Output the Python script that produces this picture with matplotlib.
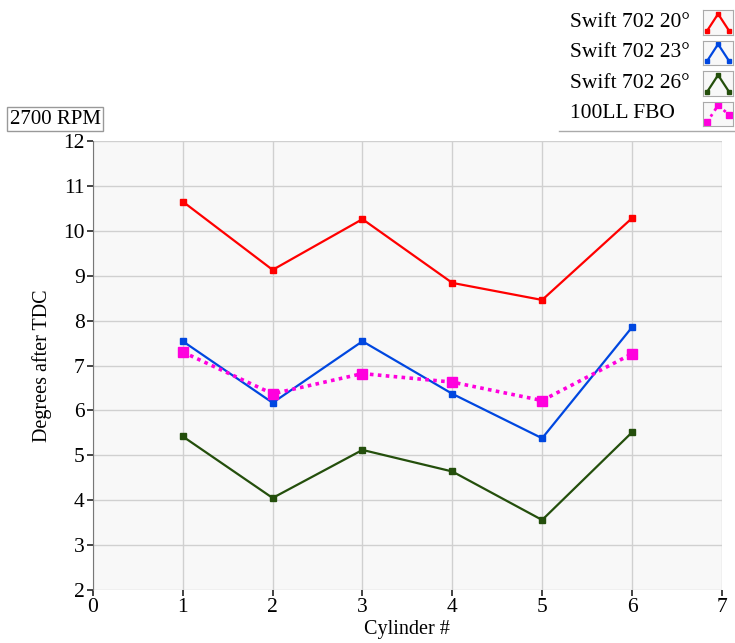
import matplotlib.pyplot as plt
from matplotlib.lines import Line2D

plt.rcParams['font.family'] = ['Liberation Serif', 'DejaVu Serif']

cylinders = [1, 2, 3, 4, 5, 6]
swift_20 = [10.65, 9.13, 10.26, 8.84, 8.46, 10.28]
swift_23 = [7.54, 6.17, 7.54, 6.37, 5.38, 7.85]
swift_26 = [5.42, 4.05, 5.12, 4.64, 3.56, 5.51]
fbo_100ll = [7.30, 6.37, 6.82, 6.63, 6.22, 7.26]

series_names = ['Swift 702 20°', 'Swift 702 23°', 'Swift 702 26°', '100LL FBO']
series_colors = ['#ff0000', '#0047e0', '#244f0c', '#ff00dd']

fig = plt.figure(figsize=(7.35, 6.43), dpi=100)
ax = fig.add_axes([0.1265, 0.0824, 0.8555, 0.6983])
ax.set_facecolor('#f8f8f8')

for vals, col in zip([swift_20, swift_23, swift_26], series_colors[:3]):
    ax.plot(cylinders, vals, color=col, lw=1.6, marker='s', ms=4, zorder=3)
ax.plot(cylinders, fbo_100ll, color=series_colors[3], lw=2.6, ls=(0, (1, 1.2)),
        marker='s', ms=7, zorder=3)

ax.set_xlim(0, 7)
ax.set_ylim(2, 12)
ax.set_xticks(range(0, 8))
ax.set_yticks(range(2, 13))
ax.grid(color='#d0d0d0', lw=1)
ax.set_axisbelow(True)
ax.tick_params(labelsize=15.5, length=4, width=1.2, color='#222222', pad=2)
for s in ['top', 'right', 'bottom']:
    ax.spines[s].set_visible(False)
ax.spines['left'].set_color('#777777')
ax.set_xlabel('Cylinder #', fontsize=14.5, labelpad=2)
ax.set_ylabel('Degrees after TDC', fontsize=14.5, labelpad=8)

# RPM label box
fig.text(0.013, 0.8, '2700 RPM', fontsize=15, va='bottom', ha='left',
         bbox=dict(boxstyle='square,pad=0.12', fc='white', ec='#999999', lw=1))

# custom legend in the top right
row_y = [0.965, 0.918, 0.870, 0.823]
for i, (name, col) in enumerate(zip(series_names, series_colors)):
    fig.text(0.775, row_y[i], name, fontsize=15.5, va='center', ha='left')
    iax = fig.add_axes([0.957, row_y[i] - 0.019, 0.040, 0.038])
    iax.set_facecolor('#f8f8f8')
    iax.set_xticks([])
    iax.set_yticks([])
    for s in iax.spines.values():
        s.set_color('#aaaaaa')
    iax.set_xlim(0, 1)
    iax.set_ylim(0, 1)
    if i < 3:
        iax.plot([0.12, 0.5, 0.88], [0.15, 0.85, 0.15], color=col, lw=1.6,
                 marker='s', ms=3)
    else:
        iax.plot([0.12, 0.5, 0.88], [0.15, 0.85, 0.45], color=col, lw=2,
                 ls=(0, (1, 1.5)), marker='s', ms=5)
fig.add_artist(Line2D([0.76, 1.0], [0.797, 0.797], color='#aaaaaa', lw=1))

fig.savefig('out.png', dpi=100)
